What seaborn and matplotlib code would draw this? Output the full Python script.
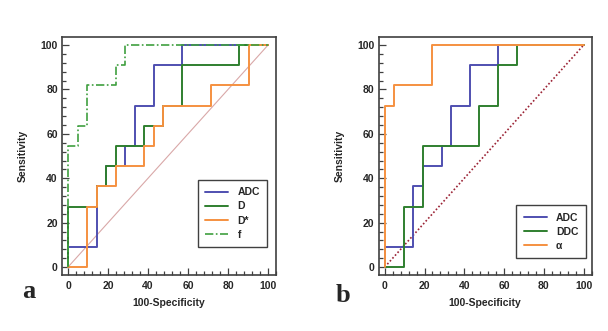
import numpy as np
import matplotlib
matplotlib.use('Agg')
import matplotlib.pyplot as plt
from matplotlib.ticker import MultipleLocator
import pandas as pd
import seaborn as sns

sns.set_style('ticks')
plt.rcParams['font.family'] = ['Liberation Sans', 'DejaVu Sans']

# ROC corner points (100-specificity, sensitivity), drawn as steps (up, then right)
# panel a
adc_x = [0, 14.29, 19.05, 28.57, 33.33, 42.86, 57.14, 100]
adc_y = [0, 9.09, 36.36, 45.45, 54.55, 72.73, 90.91, 100]
d_x = [0, 14.29, 19.05, 23.81, 38.10, 47.62, 57.14, 85.71, 100]
d_y = [0, 27.27, 36.36, 45.45, 54.55, 63.64, 72.73, 90.91, 100]
dstar_x = [0, 9.52, 14.29, 23.81, 38.10, 42.86, 47.62, 71.43, 90.48, 100]
dstar_y = [0, 0, 27.27, 36.36, 45.45, 54.55, 63.64, 72.73, 81.82, 100]
f_x = [0, 4.76, 9.52, 23.81, 28.57, 100]
f_y = [0, 54.55, 63.64, 81.82, 90.91, 100]
# panel b
ddc_x = [0, 9.52, 19.05, 47.62, 57.14, 66.67, 100]
ddc_y = [0, 0, 27.27, 54.55, 72.73, 90.91, 100]
alpha_x = [0, 4.76, 23.81, 100]
alpha_y = [0, 72.73, 81.82, 100]

ref_x = [0, 100]
ref_y = [0, 100]

blue = '#4f4fb0'
green = '#2f7f2f'
orange = '#f59140'
lgreen = '#3f9f3f'

fig = plt.figure(figsize=(6.08, 3.31), dpi=100)
ax1 = fig.add_axes([0.102, 0.169, 0.352, 0.719])
ax2 = fig.add_axes([0.623, 0.169, 0.350, 0.719])

# panel a
sns.lineplot(x=ref_x, y=ref_y, ax=ax1, color='#d9a8a8', lw=0.8)
sns.lineplot(x=adc_x, y=adc_y, ax=ax1, color=blue, lw=1.4, drawstyle='steps-pre',
             sort=False, estimator=None, label='ADC')
sns.lineplot(x=d_x, y=d_y, ax=ax1, color=green, lw=1.4, drawstyle='steps-pre',
             sort=False, estimator=None, label='D')
sns.lineplot(x=dstar_x, y=dstar_y, ax=ax1, color=orange, lw=1.4, drawstyle='steps-pre',
             sort=False, estimator=None, label='D*')
sns.lineplot(x=f_x, y=f_y, ax=ax1, color=lgreen, lw=1.2, drawstyle='steps-pre',
             sort=False, estimator=None, label='f', linestyle=(0, (5, 1.5, 1, 1.5)))

# panel b
sns.lineplot(x=ref_x, y=ref_y, ax=ax2, color='#9b2335', lw=1.2, linestyle=(0, (1, 1.3)))
sns.lineplot(x=adc_x, y=adc_y, ax=ax2, color=blue, lw=1.4, drawstyle='steps-pre',
             sort=False, estimator=None, label='ADC')
sns.lineplot(x=ddc_x, y=ddc_y, ax=ax2, color=green, lw=1.4, drawstyle='steps-pre',
             sort=False, estimator=None, label='DDC')
sns.lineplot(x=alpha_x, y=alpha_y, ax=ax2, color=orange, lw=1.4, drawstyle='steps-pre',
             sort=False, estimator=None, label='α')

for ax, anchor in [(ax1, (0.958, 0.118)), (ax2, (0.972, 0.071))]:
    ax.set_xlim(-3, 104)
    ax.set_ylim(-3.6, 103.6)
    ax.set_xticks([0, 20, 40, 60, 80, 100])
    ax.set_yticks([0, 20, 40, 60, 80, 100])
    ax.xaxis.set_minor_locator(MultipleLocator(4))
    ax.yaxis.set_minor_locator(MultipleLocator(4))
    ax.tick_params(which='both', direction='in', color='#404040', width=0.9)
    ax.tick_params(which='major', length=5, labelsize=7.5)
    ax.tick_params(axis='x', which='major', pad=4)
    ax.tick_params(axis='y', which='major', pad=3)
    ax.tick_params(which='minor', length=3)
    for lab in ax.get_xticklabels() + ax.get_yticklabels():
        lab.set_fontweight('bold')
    for s in ax.spines.values():
        s.set_visible(True)
        s.set_color('#404040')
        s.set_linewidth(1.2)
    ax.set_xlabel('100-Specificity', fontsize=7.5, fontweight='bold', labelpad=5)
    ax.set_ylabel('Sensitivity', fontsize=7.5, fontweight='bold', labelpad=9)
    leg = ax.legend(loc='lower right', bbox_to_anchor=anchor, borderaxespad=0,
                    fancybox=False, framealpha=1, edgecolor='#404040',
                    prop={'size': 7.5, 'weight': 'bold'}, handlelength=2.2,
                    borderpad=0.7, labelspacing=0.4, handletextpad=0.9)
    leg.get_frame().set_linewidth(1.0)

fig.text(22 / 608, 1 - 298 / 331, 'a', family='Liberation Serif', fontweight='bold',
         fontsize=19, ha='left', va='baseline')
fig.text(336 / 608, 1 - 302 / 331, 'b', family='Liberation Serif', fontweight='bold',
         fontsize=19, ha='left', va='baseline')

fig.savefig('out.png', dpi=100)
